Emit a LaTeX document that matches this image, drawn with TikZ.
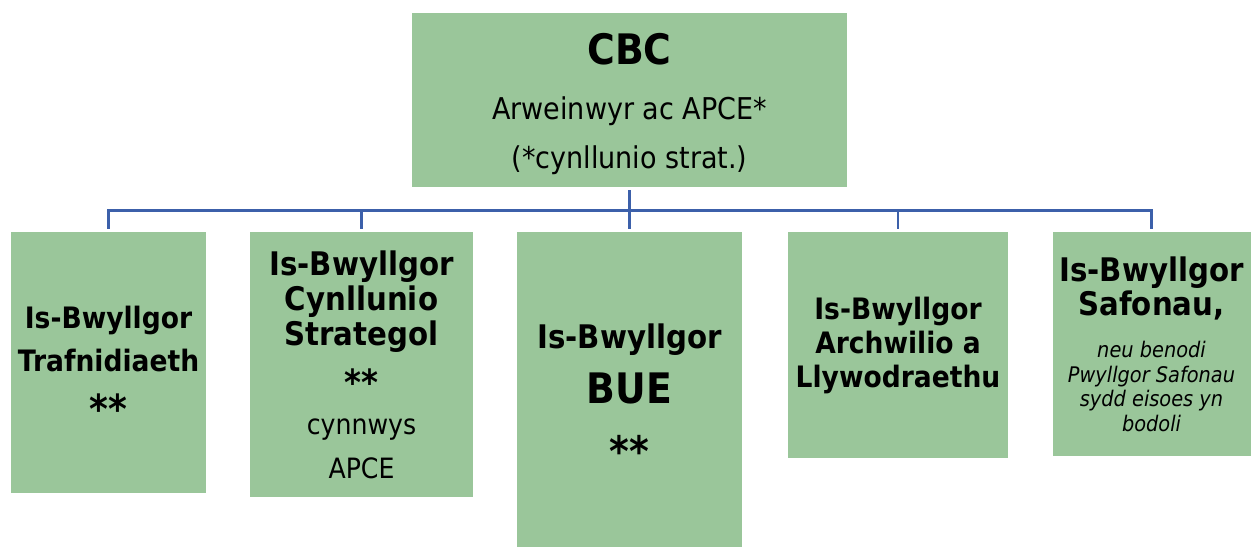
\documentclass[tikz,border=0pt]{standalone}
\usepackage{fontspec}
\setmainfont{DejaVu Sans}[FakeStretch=0.9]
\usetikzlibrary{positioning}
\definecolor{boxgreen}{RGB}{154,198,154}
\definecolor{linkblue}{RGB}{60,96,170}
\newcommand{\notefont}{\fontsize{21.5}{24.5}\selectfont\mdseries\itshape}

\begin{document}
\begin{tikzpicture}[
x=1pt, y=-1pt,
greenbox/.style={rectangle, fill=boxgreen, anchor=north, inner sep=0pt, align=center},
link/.style={draw=linkblue, line width=2.6pt}]
\useasboundingbox (0,0) rectangle (1254,547);
% Nodes
\node[greenbox, minimum width=435pt, minimum height=174pt,
  font=\fontsize{30}{49}\selectfont] (cbc) at (629.5,13)
  {\rule{0pt}{38pt}{\fontsize{42}{42}\selectfont\bfseries CBC}\\[6pt] Arweinwyr ac APCE*\\ (*cynllunio strat.)};
\node[greenbox, minimum width=195pt, minimum height=261pt,
  font=\fontsize{29.5}{43}\selectfont\bfseries] (traf) at (108.5,232)
  {\rule{0pt}{27pt}Is-Bwyllgor\\ Trafnidiaeth\\ {\fontsize{40}{40}\selectfont\raisebox{-9pt}{**}}};
\node[greenbox, minimum width=223pt, minimum height=265pt,
  font=\fontsize{32.5}{35}\selectfont\bfseries] (cynl) at (361.5,232)
  {Is-Bwyllgor\\ Cynllunio\\ Strategol\\[10pt] {\fontsize{36}{36}\selectfont\raisebox{-5pt}{**}}\\[9pt]
   {\fontsize{28}{30}\selectfont\mdseries cynnwys}\\[9pt]
   {\fontsize{28}{30}\selectfont\mdseries APCE}};
\node[greenbox, minimum width=225pt, minimum height=315pt,
  font=\fontsize{32.5}{55}\selectfont\bfseries] (bue) at (629.5,232)
  {\rule{0pt}{36pt}Is-Bwyllgor\\ {\fontsize{42}{42}\selectfont BUE}\\ {\fontsize{42}{42}\selectfont\raisebox{-8pt}{**}}};
\node[greenbox, minimum width=220pt, minimum height=226pt,
  font=\fontsize{29.5}{34}\selectfont\bfseries] (arch) at (898,232)
  {Is-Bwyllgor\\ Archwilio a\\ Llywodraethu};
\node[greenbox, minimum width=198pt, minimum height=224pt,
  font=\fontsize{32.5}{34}\selectfont\bfseries] (safon) at (1151.5,232)
  {Is-Bwyllgor\\ Safonau,\\[8pt] {\notefont neu benodi}\\[-9.5pt]
   {\notefont Pwyllgor Safonau}\\[-9.5pt] {\notefont sydd eisoes yn}\\[-9.5pt]
   {\notefont bodoli}};
% Lines
\coordinate (bus) at ([yshift=-23pt]cbc.south);
\draw[link, shorten <=3pt, shorten >=3pt] (cbc.south) -- (bue.north);
\foreach \sub in {traf,cynl,arch,safon}
  \draw[link, shorten >=3pt] (bus) -| (\sub.north);
\end{tikzpicture}
\end{document}
